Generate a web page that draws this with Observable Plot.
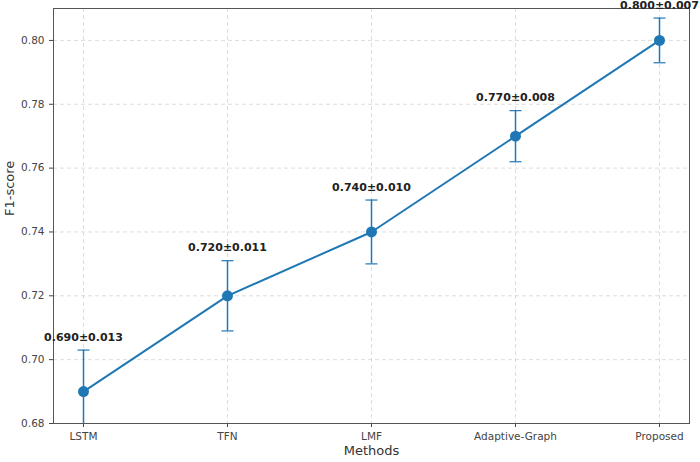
<!DOCTYPE html>
<html>
<head>
<meta charset="utf-8">
<script src="https://cdn.jsdelivr.net/npm/d3@7"></script>
<script src="https://cdn.jsdelivr.net/npm/@observablehq/plot@0.6"></script>
<style>
  html, body { margin: 0; padding: 0; background: #fff; }
</style>
</head>
<body>
<div id="chart"></div>
<script>
const methods = ["LSTM", "TFN", "LMF", "Adaptive-Graph", "Proposed"];
const means = [0.690, 0.720, 0.740, 0.770, 0.800];
const stds = [0.013, 0.011, 0.010, 0.008, 0.007];
const yTicks = [0.68, 0.70, 0.72, 0.74, 0.76, 0.78, 0.80];

const data = methods.map((m, i) => ({method: m, mean: means[i], std: stds[i]}));
const blue = "#1f77b4";
const capSymbol = {
  draw(ctx, size) {
    const w = Math.sqrt(size / Math.PI);
    ctx.moveTo(-w, 0);
    ctx.lineTo(w, 0);
  }
};

const chart = Plot.plot({
  width: 700,
  height: 462,
  marginLeft: 53,
  marginRight: 11,
  marginTop: 8,
  marginBottom: 39,
  style: {fontFamily: "DejaVu Sans, sans-serif", background: "#fff"},
  x: {type: "point", domain: methods, padding: 0.2},
  y: {domain: [0.68, 0.81]},
  marks: [
    Plot.gridX(methods, {stroke: "#d4d4d4", strokeOpacity: 1, strokeDasharray: "4,3", strokeWidth: 0.8}),
    Plot.gridY(yTicks, {stroke: "#d4d4d4", strokeOpacity: 1, strokeDasharray: "4,3", strokeWidth: 0.8}),
    Plot.axisY(yTicks, {tickFormat: d3.format(".2f"), tickSize: 4, tickPadding: 5, fontSize: 10.5, color: "#444", label: null}),
    Plot.axisX(methods, {tickSize: 4, tickPadding: 5, fontSize: 10.5, color: "#444", label: null}),
    Plot.frame({stroke: "#555", strokeWidth: 1}),
    Plot.ruleX(data, {x: "method", y1: d => d.mean - d.std, y2: d => d.mean + d.std, stroke: blue, strokeWidth: 1.5, clip: true}),
    Plot.dot(data, {x: "method", y: d => d.mean + d.std, symbol: capSymbol, r: 6, stroke: blue, strokeWidth: 1.2, fill: "none", clip: true}),
    Plot.dot(data, {x: "method", y: d => d.mean - d.std, symbol: capSymbol, r: 6, stroke: blue, strokeWidth: 1.2, fill: "none", clip: true}),
    Plot.line(data, {x: "method", y: "mean", stroke: blue, strokeWidth: 2}),
    Plot.dot(data, {x: "method", y: "mean", r: 5.5, fill: blue, stroke: "none"}),
    Plot.text(data, {x: "method", y: d => d.mean + d.std, dy: -13, text: d => `${d.mean.toFixed(3)}±${d.std.toFixed(3)}`, fontWeight: "bold", fontSize: 11, fill: "#222"}),
    Plot.text(["F1-score"], {frameAnchor: "left", dx: -44, rotate: -90, fontSize: 13, fill: "#333"}),
    Plot.text(["Methods"], {frameAnchor: "bottom", dy: 31, fontSize: 13, fill: "#333"})
  ]
});
document.getElementById("chart").appendChild(chart);
</script>
</body>
</html>
